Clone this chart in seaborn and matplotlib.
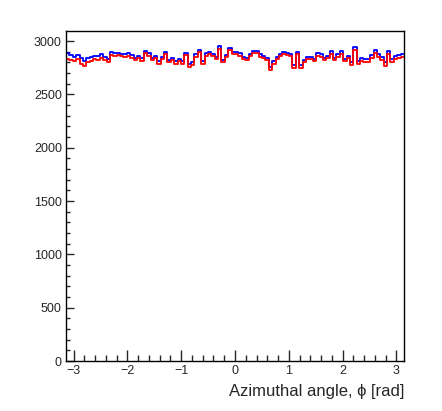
import numpy as np
import pandas as pd
import matplotlib
matplotlib.use("Agg")
import matplotlib.pyplot as plt
from matplotlib.ticker import MultipleLocator
import seaborn as sns

# ---- data ----
red_counts = [2830, 2820, 2815, 2830, 2790, 2770, 2800, 2815, 2830, 2825,
              2840, 2820, 2800, 2870, 2865, 2870, 2860, 2850, 2865, 2845,
              2820, 2840, 2815, 2890, 2860, 2820, 2840, 2785, 2830, 2880,
              2800, 2820, 2790, 2810, 2790, 2870, 2760, 2780, 2850, 2895,
              2790, 2860, 2880, 2860, 2830, 2930, 2800, 2850, 2920, 2880,
              2880, 2860, 2830, 2820, 2860, 2890, 2890, 2850, 2840, 2820,
              2730, 2790, 2830, 2860, 2880, 2870, 2860, 2750, 2880, 2750,
              2800, 2830, 2830, 2810, 2860, 2850, 2820, 2840, 2880, 2820,
              2850, 2880, 2810, 2840, 2780, 2920, 2790, 2810, 2800, 2800,
              2840, 2890, 2850, 2820, 2770, 2880, 2800, 2830, 2840, 2850]
blue_counts = [2890, 2870, 2850, 2870, 2840, 2810, 2840, 2850, 2865, 2860,
               2875, 2855, 2830, 2900, 2890, 2890, 2880, 2875, 2885, 2870,
               2845, 2865, 2840, 2910, 2885, 2845, 2865, 2810, 2855, 2900,
               2825, 2845, 2815, 2835, 2810, 2890, 2785, 2805, 2875, 2915,
               2815, 2885, 2900, 2880, 2855, 2950, 2825, 2870, 2940, 2900,
               2900, 2885, 2855, 2845, 2880, 2910, 2910, 2875, 2865, 2845,
               2755, 2815, 2855, 2880, 2900, 2890, 2880, 2775, 2900, 2775,
               2825, 2855, 2855, 2835, 2885, 2875, 2845, 2865, 2905, 2845,
               2875, 2905, 2835, 2865, 2805, 2945, 2815, 2840, 2830, 2830,
               2870, 2915, 2880, 2850, 2800, 2905, 2830, 2860, 2870, 2880]
n_bins = len(red_counts)
phi_min, phi_max = -np.pi, np.pi
x_label = "Azimuthal angle, \u03d5 [rad]"

edges = np.linspace(phi_min, phi_max, n_bins + 1)
centers = 0.5 * (edges[:-1] + edges[1:])
df = pd.DataFrame({"phi": np.concatenate([centers, centers]),
                   "count": blue_counts + red_counts,
                   "series": ["blue"] * n_bins + ["red"] * n_bins})

sns.set_style("ticks")
plt.rcParams["font.family"] = ["Liberation Sans", "DejaVu Sans"]

fig = plt.figure(figsize=(4.42, 4.11), dpi=100)
ax = fig.add_axes([66 / 442, 1 - 361 / 411, (404 - 66) / 442, (361 - 31) / 411])

for name, col in [("blue", "#0000ff"), ("red", "#ff0000")]:
    sub = df[df["series"] == name]
    sns.histplot(data=sub, x="phi", weights="count", bins=n_bins,
                 binrange=(phi_min, phi_max),
                 element="step", fill=False, color=col, linewidth=1.3, ax=ax)

ax.set_xlim(phi_min, phi_max)
ax.set_ylim(0, 3095)
ax.set_ylabel("")
ax.set_xlabel(x_label, fontsize=12, loc="right", labelpad=5)

ax.xaxis.set_major_locator(MultipleLocator(1))
ax.xaxis.set_minor_locator(MultipleLocator(0.2))
ax.yaxis.set_major_locator(MultipleLocator(500))
ax.yaxis.set_minor_locator(MultipleLocator(100))

ax.tick_params(axis="x", which="major", direction="in", length=8, width=1,
               labelsize=9, pad=3, top=False)
ax.tick_params(axis="x", which="minor", direction="in", length=4, width=1, top=False)
ax.tick_params(axis="y", which="major", direction="in", length=5.5, width=1,
               labelsize=9, pad=3, right=False)
ax.tick_params(axis="y", which="minor", direction="in", length=3, width=1, right=False)

for s in ax.spines.values():
    s.set_visible(True)
    s.set_linewidth(1)
    s.set_color("black")

fig.savefig("out.png", dpi=100)
